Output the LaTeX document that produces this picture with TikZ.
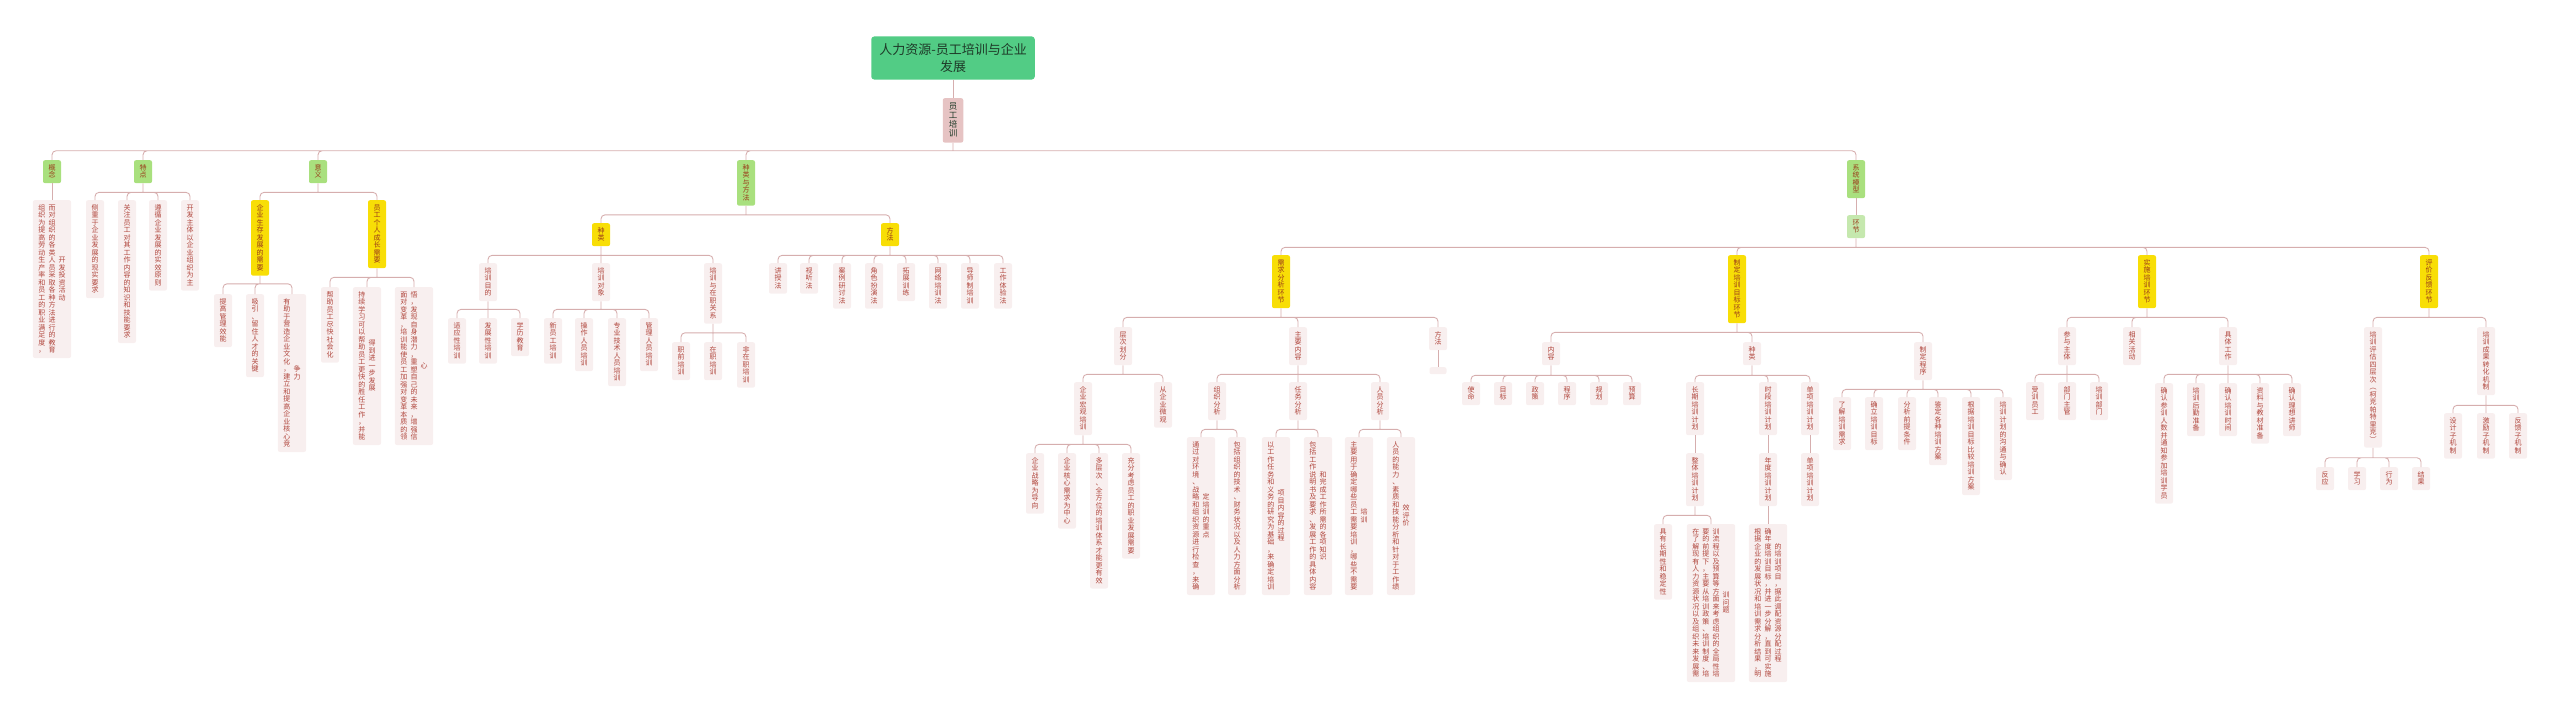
\documentclass[tikz,border=0pt]{standalone}
\usepackage{fontspec}
\setmainfont{Noto Sans CJK SC}
\usepackage{tikz}
\usepackage{xcolor}
\definecolor{rootgreen}{HTML}{52CC85}
\definecolor{roottx}{HTML}{1E3A28}
\definecolor{ygbg}{HTML}{E6C3C3}
\definecolor{lvgreen}{HTML}{A9E07E}
\definecolor{hjgreen}{HTML}{C5E8AE}
\definecolor{lvyellow}{HTML}{F8DE06}
\definecolor{lvtx}{HTML}{9A3A1A}
\definecolor{leafbg}{HTML}{F8EFEF}
\definecolor{leaftx}{HTML}{B0453C}
\definecolor{linec}{HTML}{D6AEAE}

\ExplSyntaxOn
\NewDocumentCommand\vt{m}{
  \seq_set_split:Nnn \l_tmpa_seq {|} {#1}
  \bool_set_true:N \l_tmpa_bool
  \seq_map_inline:Nn \l_tmpa_seq {
    \bool_if:NF \l_tmpa_bool {\hspace{.45em}}
    \bool_set_false:N \l_tmpa_bool
    $\vcenter{\baselineskip=1.07em \lineskiplimit=-\maxdimen \lineskip=0pt
      \tl_map_inline:nn {##1} {\hbox_to_wd:nn{1em}{\hss\vrule~height~.86em~depth~.21em~width~0pt~####1\hss}}}$
  }
}
\ExplSyntaxOff

\begin{document}
\begin{tikzpicture}[x=1pt,y=-1pt,
  cell/.style={anchor=north,rounded corners=2pt,inner xsep=5.5pt,inner ysep=4pt,text=leaftx,font=\fontsize{7}{7.5}\selectfont},
  leaf/.style={cell,fill=leafbg},
  lvone/.style={cell,fill=lvgreen,text=lvtx},
  lvtwo/.style={cell,fill=lvyellow,text=lvtx},
  conn/.style={draw=linec,line width=0.9pt,rounded corners=4pt}]
\useasboundingbox (0,0) rectangle (2560,720);

\node[fill=rootgreen,rounded corners=3pt,align=center,inner xsep=8pt,inner ysep=7pt,font=\fontsize{13}{17}\selectfont,text=roottx] (root) at (953,58) {人力资源-员工培训与企业\\发展};
\node[cell,fill=ygbg,text=roottx,font=\fontsize{8.5}{9}\selectfont,inner xsep=6pt] (ygpx) at (953,98) {\vt{员工培训}};

\node[lvone] (gainian) at (52,160) {\vt{概念}};
\node[lvone] (tedian) at (143,160) {\vt{特点}};
\node[lvone] (yiyi) at (318,160) {\vt{意义}};
\node[lvone] (zlff) at (746,160) {\vt{种类与方法}};
\node[lvone] (xtmx) at (1856,160) {\vt{系统模型}};

\node[leaf] (gn1) at (52,200) {\vt{组织为提高劳动生产率和员工的职业满足度，|而对组织的各类人员采取各种方法进行的教育|开发投资活动}};
\node[leaf] (td1) at (95,200) {\vt{侧重于企业发展的现实要求}};
\node[leaf] (td2) at (127,200) {\vt{关注员工对其工作内容的知识和技能要求}};
\node[leaf] (td3) at (158,200) {\vt{遵循企业发展的实效原则}};
\node[leaf] (td4) at (190,200) {\vt{开发主体以企业组织为主}};

\node[lvtwo] (yy1) at (260,200) {\vt{企业生存发展的需要}};
\node[lvtwo] (yy2) at (377,200) {\vt{员工个人成长需要}};
\node[leaf] (yya) at (223,294) {\vt{提高管理效能}};
\node[leaf] (yyb) at (255,294) {\vt{吸引、留住人才的关键}};
\node[leaf] (yyc) at (292,294) {\vt{有助于营造企业文化，建立和提高企业核心竞|争力}};
\node[leaf] (yyd) at (330,287) {\vt{帮助员工尽快社会化}};
\node[leaf] (yye) at (367,287) {\vt{持续学习可以帮助员工更快的胜任工作，并能|得到进一步发展}};
\node[leaf] (yyf) at (414,287) {\vt{面对变革，培训能使员工加强对变革本质的领|悟，发现自身潜力，重塑自己的未来，增强信|心}};

\node[lvtwo] (zl) at (601,223) {\vt{种类}};
\node[lvtwo] (ff) at (890,223) {\vt{方法}};
\node[leaf] (mudi) at (488,263) {\vt{培训目的}};
\node[leaf] (duixiang) at (601,263) {\vt{培训对象}};
\node[leaf] (guanxi) at (713,263) {\vt{培训与在职关系}};
\node[leaf] (md1) at (457,318) {\vt{适应性培训}};
\node[leaf] (md2) at (488,318) {\vt{发展性培训}};
\node[leaf] (md3) at (520,318) {\vt{学历教育}};
\node[leaf] (dx1) at (553,318) {\vt{新员工培训}};
\node[leaf] (dx2) at (584,318) {\vt{操作人员培训}};
\node[leaf] (dx3) at (617,318) {\vt{专业技术人员培训}};
\node[leaf] (dx4) at (649,318) {\vt{管理人员培训}};
\node[leaf] (gx1) at (681,342) {\vt{职前培训}};
\node[leaf] (gx2) at (713,342) {\vt{在职培训}};
\node[leaf] (gx3) at (746,342) {\vt{非在职培训}};
\node[leaf] (ff1) at (778,263) {\vt{讲授法}};
\node[leaf] (ff2) at (809,263) {\vt{视听法}};
\node[leaf] (ff3) at (842,263) {\vt{案例研讨法}};
\node[leaf] (ff4) at (874,263) {\vt{角色扮演法}};
\node[leaf] (ff5) at (906,263) {\vt{拓展训练}};
\node[leaf] (ff6) at (938,263) {\vt{网络培训法}};
\node[leaf] (ff7) at (970,263) {\vt{导师制培训}};
\node[leaf] (ff8) at (1003,263) {\vt{工作体验法}};

\node[cell,fill=hjgreen,text=lvtx] (huanjie) at (1856,215) {\vt{环节}};
\node[lvtwo] (xq) at (1281,255) {\vt{需求分析环节}};
\node[lvtwo] (mb) at (1737,255) {\vt{制定培训目标环节}};
\node[lvtwo] (ss) at (2147,255) {\vt{实施培训环节}};
\node[lvtwo] (pj) at (2429,255) {\vt{评价反馈环节}};

\node[leaf] (cc) at (1123,327) {\vt{层次划分}};
\node[leaf] (nr) at (1298,327) {\vt{主要内容}};
\node[leaf] (xqff) at (1438,327) {\vt{方法}};
\node[leaf,minimum width=17pt,minimum height=7pt,inner sep=0pt] (xqffe) at (1438,367) {};
\node[leaf] (hg) at (1083,382) {\vt{企业宏观培训}};
\node[leaf] (wg) at (1163,382) {\vt{从企业微观}};
\node[leaf] (hg1) at (1035,453) {\vt{企业战略为导向}};
\node[leaf] (hg2) at (1067,453) {\vt{企业核心需求为中心}};
\node[leaf] (hg3) at (1099,453) {\vt{多层次、全方位的培训体系才能更有效}};
\node[leaf] (hg4) at (1131,453) {\vt{充分考虑员工的职业发展需要}};
\node[leaf] (zz) at (1217,382) {\vt{组织分析}};
\node[leaf] (rw) at (1298,382) {\vt{任务分析}};
\node[leaf] (ry) at (1380,382) {\vt{人员分析}};
\node[leaf] (zz1) at (1201,437) {\vt{通过对环境、战略和组织资源进行检查，来确|定培训的重点}};
\node[leaf] (zz2) at (1237,437) {\vt{包括组织的技术、财务状况以及人力方面分析}};
\node[leaf] (rw1) at (1276,437) {\vt{以工作任务和义务的研究为基础，来确定培训|项目内容的过程}};
\node[leaf] (rw2) at (1318,437) {\vt{包括工作说明书及要求、发展工作的具体内容|和完成工作所需的各项知识}};
\node[leaf] (ry1) at (1359,437) {\vt{主要用于确定哪些员工需要培训，哪些不需要|培训}};
\node[leaf] (ry2) at (1401,437) {\vt{人员的能力、素质和技能分析和针对于工作绩|效评价}};

\node[leaf] (mbnr) at (1551,342) {\vt{内容}};
\node[leaf] (mbzl) at (1752,342) {\vt{种类}};
\node[leaf] (mbcx) at (1923,342) {\vt{制定程序}};
\node[leaf] (nr1) at (1471,382) {\vt{使命}};
\node[leaf] (nr2) at (1503,382) {\vt{目标}};
\node[leaf] (nr3) at (1535,382) {\vt{政策}};
\node[leaf] (nr4) at (1567,382) {\vt{程序}};
\node[leaf] (nr5) at (1599,382) {\vt{规划}};
\node[leaf] (nr6) at (1632,382) {\vt{预算}};
\node[leaf] (cq) at (1695,382) {\vt{长期培训计划}};
\node[leaf] (sd) at (1768,382) {\vt{时段培训计划}};
\node[leaf] (dxj) at (1810,382) {\vt{单项培训计划}};
\node[leaf] (zt) at (1695,453) {\vt{整体培训计划}};
\node[leaf] (nd) at (1768,453) {\vt{年度培训计划}};
\node[leaf] (dxj2) at (1810,453) {\vt{单项培训计划}};
\node[leaf] (zt1) at (1663,524) {\vt{具有长期性和稳定性}};
\node[leaf] (zt2) at (1711,524) {\vt{在了解现有人力资源状况以及组织未来发展需|要的前提下，主要从培训政策、培训制度、培|训流程以及预算等方面来考虑组织的全局性培|训问题}};
\node[leaf] (nd1) at (1768,524) {\vt{根据企业的发展状况和培训需求分析结果，明|确年度培训目标，并进一步分解，直到可实施|的培训项目，据此调配资源分配过程}};
\node[leaf] (cx1) at (1842,397) {\vt{了解培训需求}};
\node[leaf] (cx2) at (1874,397) {\vt{确立培训目标}};
\node[leaf] (cx3) at (1907,397) {\vt{分析前提条件}};
\node[leaf] (cx4) at (1938,397) {\vt{鉴定各种培训方案}};
\node[leaf] (cx5) at (1971,397) {\vt{根据培训目标比较培训方案}};
\node[leaf] (cx6) at (2003,397) {\vt{培训计划的沟通与确认}};

\node[leaf] (cy) at (2067,327) {\vt{参与主体}};
\node[leaf] (xg) at (2132,327) {\vt{相关活动}};
\node[leaf] (jt) at (2228,327) {\vt{具体工作}};
\node[leaf] (cy1) at (2035,382) {\vt{受训员工}};
\node[leaf] (cy2) at (2067,382) {\vt{部门主管}};
\node[leaf] (cy3) at (2099,382) {\vt{培训部门}};
\node[leaf] (jt1) at (2164,383) {\vt{确认参训人数并通知参加培训学员}};
\node[leaf] (jt2) at (2196,383) {\vt{培训后勤准备}};
\node[leaf] (jt3) at (2228,383) {\vt{确认培训时间}};
\node[leaf] (jt4) at (2260,383) {\vt{资料与教材准备}};
\node[leaf] (jt5) at (2292,383) {\vt{确认理想讲师}};
\node[leaf] (pg) at (2373,327) {\vt{培训评估四层次︵柯克帕特里克︶}};
\node[leaf] (cg) at (2486,327) {\vt{培训成果转化机制}};
\node[leaf] (pg1) at (2325,467) {\vt{反应}};
\node[leaf] (pg2) at (2357,467) {\vt{学习}};
\node[leaf] (pg3) at (2389,467) {\vt{行为}};
\node[leaf] (pg4) at (2421,467) {\vt{结果}};
\node[leaf] (cg1) at (2453,413) {\vt{设计子机制}};
\node[leaf] (cg2) at (2486,413) {\vt{激励子机制}};
\node[leaf] (cg3) at (2518,413) {\vt{反馈子机制}};

\draw[conn] (root) -- (ygpx);
\draw[conn] (ygpx.south) -- ++(0,8) coordinate (b0) (b0) -| (gainian.north) (b0) -| (tedian.north) (b0) -| (yiyi.north) (b0) -| (zlff.north) (b0) -| (xtmx.north);
\draw[conn] (gainian) -- (gn1);
\draw[conn] (tedian.south) -- ++(0,9) coordinate (b1) (b1) -| (td1.north) (b1) -| (td2.north) (b1) -| (td3.north) (b1) -| (td4.north);
\draw[conn] (yiyi.south) -- ++(0,9) coordinate (b2) (b2) -| (yy1.north) (b2) -| (yy2.north);
\draw[conn] (yy1.south) -- ++(0,8) coordinate (b3) (b3) -| (yya.north) (b3) -| (yyb.north) (b3) -| (yyc.north);
\draw[conn] (yy2.south) -- ++(0,9) coordinate (b4) (b4) -| (yyd.north) (b4) -| (yye.north) (b4) -| (yyf.north);
\draw[conn] (zlff.south) -- ++(0,9) coordinate (b5) (b5) -| (zl.north) (b5) -| (ff.north);
\draw[conn] (zl.south) -- ++(0,9) coordinate (b6) (b6) -| (mudi.north) (b6) -- (duixiang.north) (b6) -| (guanxi.north);
\draw[conn] (mudi.south) -- ++(0,8) coordinate (b7) (b7) -| (md1.north) (b7) -- (md2.north) (b7) -| (md3.north);
\draw[conn] (duixiang.south) -- ++(0,8) coordinate (b8) (b8) -| (dx1.north) (b8) -| (dx2.north) (b8) -| (dx3.north) (b8) -| (dx4.north);
\draw[conn] (guanxi.south) -- ++(0,9) coordinate (b9) (b9) -| (gx1.north) (b9) -- (gx2.north) (b9) -| (gx3.north);
\draw[conn] (ff.south) -- ++(0,9) coordinate (b10) (b10) -| (ff1.north) (b10) -| (ff2.north) (b10) -| (ff3.north) (b10) -| (ff4.north) (b10) -| (ff5.north) (b10) -| (ff6.north) (b10) -| (ff7.north) (b10) -| (ff8.north);
\draw[conn] (xtmx) -- (huanjie);
\draw[conn] (huanjie.south) -- ++(0,9) coordinate (b11) (b11) -| (xq.north) (b11) -| (mb.north) (b11) -| (ss.north) (b11) -| (pj.north);
\draw[conn] (xq.south) -- ++(0,9) coordinate (b12) (b12) -| (cc.north) (b12) -| (nr.north) (b12) -| (xqff.north);
\draw[conn] (xqff) -- (xqffe);
\draw[conn] (cc.south) -- ++(0,9) coordinate (b13) (b13) -| (hg.north) (b13) -| (wg.north);
\draw[conn] (hg.south) -- ++(0,9) coordinate (b14) (b14) -| (hg1.north) (b14) -| (hg2.north) (b14) -| (hg3.north) (b14) -| (hg4.north);
\draw[conn] (nr.south) -- ++(0,9) coordinate (b15) (b15) -| (zz.north) (b15) -- (rw.north) (b15) -| (ry.north);
\draw[conn] (zz.south) -- ++(0,9) coordinate (b16) (b16) -| (zz1.north) (b16) -| (zz2.north);
\draw[conn] (rw.south) -- ++(0,9) coordinate (b17) (b17) -| (rw1.north) (b17) -| (rw2.north);
\draw[conn] (ry.south) -- ++(0,9) coordinate (b18) (b18) -| (ry1.north) (b18) -| (ry2.north);
\draw[conn] (mb.south) -- ++(0,9) coordinate (b19) (b19) -| (mbnr.north) (b19) -| (mbzl.north) (b19) -| (mbcx.north);
\draw[conn] (mbnr.south) -- ++(0,10) coordinate (b20) (b20) -| (nr1.north) (b20) -| (nr2.north) (b20) -| (nr3.north) (b20) -| (nr4.north) (b20) -| (nr5.north) (b20) -| (nr6.north);
\draw[conn] (mbzl.south) -- ++(0,10) coordinate (b21) (b21) -| (cq.north) (b21) -| (sd.north) (b21) -| (dxj.north);
\draw[conn] (cq) -- (zt);
\draw[conn] (sd) -- (nd);
\draw[conn] (dxj) -- (dxj2);
\draw[conn] (zt.south) -- ++(0,9) coordinate (b22) (b22) -| (zt1.north) (b22) -| (zt2.north);
\draw[conn] (nd) -- (nd1);
\draw[conn] (mbcx.south) -- ++(0,9) coordinate (b23) (b23) -| (cx1.north) (b23) -| (cx2.north) (b23) -| (cx3.north) (b23) -| (cx4.north) (b23) -| (cx5.north) (b23) -| (cx6.north);
\draw[conn] (ss.south) -- ++(0,9) coordinate (b24) (b24) -| (cy.north) (b24) -| (xg.north) (b24) -| (jt.north);
\draw[conn] (cy.south) -- ++(0,9) coordinate (b25) (b25) -| (cy1.north) (b25) -- (cy2.north) (b25) -| (cy3.north);
\draw[conn] (jt.south) -- ++(0,9) coordinate (b26) (b26) -| (jt1.north) (b26) -| (jt2.north) (b26) -- (jt3.north) (b26) -| (jt4.north) (b26) -| (jt5.north);
\draw[conn] (pj.south) -- ++(0,9) coordinate (b27) (b27) -| (pg.north) (b27) -| (cg.north);
\draw[conn] (pg.south) -- ++(0,10) coordinate (b28) (b28) -| (pg1.north) (b28) -| (pg2.north) (b28) -| (pg3.north) (b28) -| (pg4.north);
\draw[conn] (cg.south) -- ++(0,10) coordinate (b29) (b29) -| (cg1.north) (b29) -- (cg2.north) (b29) -| (cg3.north);
\end{tikzpicture}
\end{document}
